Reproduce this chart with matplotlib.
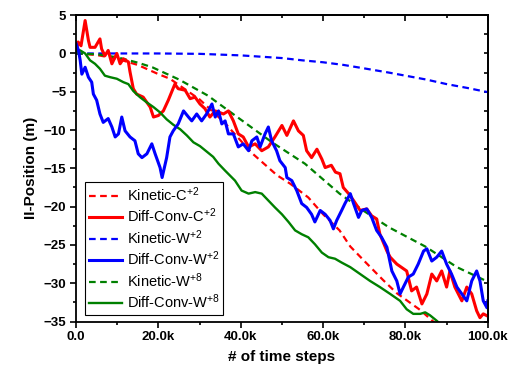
import numpy as np
import matplotlib
matplotlib.use('Agg')
from matplotlib import pyplot as plt
from matplotlib.ticker import FixedLocator, MultipleLocator

plt.rcParams['font.family'] = ['Liberation Sans', 'DejaVu Sans']
plt.rcParams['mathtext.fontset'] = 'custom'
plt.rcParams['mathtext.rm'] = 'Liberation Sans'
plt.rcParams['mathtext.it'] = 'Liberation Sans'
plt.rcParams['mathtext.bf'] = 'Liberation Sans:bold'

# x values in thousands of time steps
kin_c_x = [0, 5, 10, 15, 20, 22.8, 30, 36, 42.7, 48.8, 52, 56.4, 60, 64, 66.6, 70.2, 74.6, 77.9, 83.6, 88]
kin_c_y = [0, -0.2, -0.7, -1.5, -2.7, -3.3, -6.0, -9.0, -13.0, -15.9, -17.0, -18.8, -21.0, -23.1, -25.2,
           -27.2, -29.6, -31.3, -33.5, -35.6]

kin_w2_x = [0, 10, 20, 30, 40, 50, 55, 60, 65, 70, 76, 80, 85, 90, 95, 100]
kin_w2_y = [0, 0, 0, -0.05, -0.25, -0.6, -0.9, -1.15, -1.5, -1.95, -2.5, -2.9, -3.4, -4.0, -4.5, -5.05]

kin_w8_x = [0, 5, 10, 15, 18.5, 25, 32, 39.4, 47.6, 55.6, 64, 70, 76, 84.8, 92.5, 100]
kin_w8_y = [0, -0.1, -0.5, -1.2, -1.8, -3.4, -5.5, -8.4, -11.6, -14.4, -18.3, -20.6, -22.7, -25.2, -27.9, -29.8]

dc_c_x = [0, 0.5, 1.2, 2.2, 3, 3.4, 4.6, 5.8, 6.2, 7, 7.8, 8.7, 9.9, 10.7, 11.5, 12.7, 13.1, 13.9, 14.7,
          16.3, 18, 18.8, 20, 21.2, 22.4, 24, 24.8, 26.5, 27.7, 28.9, 30.1, 31.3, 32.5, 33.8, 35.8, 37, 38.2,
          39.4, 40.6, 41.9, 43.5, 45.1, 46.7, 48.3, 50, 51.2, 52.8, 54, 55.2, 56, 57.2, 58.5, 59.7, 60.5, 62,
          63, 64.1, 64.9, 66.2, 67.4, 69, 70.6, 71.8, 73, 73.8, 75.5, 76.3, 77.9, 80.3, 81.5, 82.7, 84, 85.2,
          86.4, 87.6, 88.8, 90, 90.8, 92, 93.7, 94.9, 96.1, 97.3, 98.1, 98.9, 100]
dc_c_y = [0.3, 1.5, 1.0, 4.3, 1.7, 0.8, 0.8, 1.9, 0.6, -0.3, 0.4, -1.35, 0, -1.35, -0.7, -1.1, -2.4, -4.6, -5.3,
          -5.7, -7, -8.3, -8.1, -7.5, -6.1, -4, -4.6, -4.8, -5.9, -5.7, -6.6, -7.2, -8.3, -7.5, -7.9, -7.5, -8.8,
          -10.5, -10.9, -12.2, -11.8, -12.7, -12.2, -10.9, -9.4, -10.7, -8.8, -10.1, -10.7, -12.7, -13.6, -12.5,
          -13.8, -14.9, -14.6, -15.5, -15.7, -17.5, -18.3, -19.2, -20.5, -20.3, -21.2, -21.6, -23.6, -25.8, -26.6,
          -27.5, -28.4, -31, -30.5, -32.7, -31.4, -28.8, -29.7, -28.4, -30.5, -28.4, -30.5, -32.3, -30.5, -31.4,
          -33.6, -34.5, -34, -34.3]

dc_w2_x = [0, 0.6, 1, 1.4, 2.2, 3, 3.8, 4.2, 5, 5.8, 6.6, 7.8, 8.7, 9.5, 10.3, 11.1, 11.9, 13.1, 14.3, 15.1,
           16, 17.2, 18.4, 19.2, 20.4, 20.9, 22, 22.8, 23.6, 24.8, 26.1, 27.3, 28.1, 29.3, 30.5, 31.7, 33, 33.8,
           34.6, 35.4, 36.2, 37, 38.2, 39.4, 40.6, 41.9, 42.7, 43.9, 44.7, 45.9, 46.7, 47.5, 48.7, 49.5, 50.8,
           51.2, 52.4, 53.6, 54.8, 56, 57.2, 58, 59.3, 60.5, 61.7, 62.5, 63.3, 64.5, 65.3, 66.6, 67.4, 68.6, 69.4,
           70.6, 71.8, 73, 74.2, 75.5, 76.7, 77.9, 78.7, 79.5, 80.7, 81.9, 83.1, 84.4, 85.2, 86.4, 87.6, 88.8,
           90, 91.2, 92.5, 93.7, 94.9, 96.1, 97.3, 98.1, 98.9, 99.8, 100]
dc_w2_y = [1.3, 0.4, -0.9, -2.7, -1.8, -3.1, -3.75, -5.3, -6.1, -7.9, -9.0, -8.5, -9.6, -10.9, -10.5, -8.3,
           -10.1, -10.9, -11.4, -13.1, -13.6, -13.1, -11.8, -13.1, -14.9, -16.2, -13.6, -10.9, -10.1, -9.2, -7.5,
           -8.3, -8.8, -7.9, -8.8, -7.9, -6.6, -8.3, -7.5, -9.2, -8.8, -10.5, -10.5, -12.2, -11.8, -12.7, -11.4,
           -10.9, -12.2, -10.5, -9.6, -11.4, -12.7, -14, -14.9, -16.2, -16.6, -17.9, -19.6, -20.1, -21, -22,
           -20.5, -21, -21.8, -22.9, -21.8, -20.5, -19.6, -18.3, -19.6, -21.4, -20.5, -20.3, -21.4, -23.1, -24,
           -25.3, -28.4, -29.7, -31.4, -30.5, -29.2, -28.8, -27.5, -25.8, -25.5, -27.1, -26.6, -25.8, -27.5,
           -28.8, -30.5, -31.4, -32.3, -29.7, -28.4, -29.7, -32.3, -33.2, -32.3]

dc_w8_x = [0, 1, 2.2, 3.4, 4.6, 5.8, 7, 8.3, 9.9, 11.5, 12.7, 13.9, 15.5, 17.2, 18.8, 20.4, 22, 23.6, 25.3,
           26.9, 28.5, 30.1, 31.7, 33.3, 34.6, 36.2, 38.6, 40.2, 41.9, 43.5, 45.1, 46.7, 48.3, 50, 51.6, 53.2,
           54.8, 56.4, 58, 59.7, 61.3, 62.9, 64.5, 66.6, 69, 71.4, 73.8, 76.3, 78.7, 80.3, 81.9, 83.6, 84.8, 86,
           87.6, 88.4]
dc_w8_y = [0.2, 0.4, 0, -0.9, -1.35, -2, -2.9, -3.1, -3.3, -3.75, -4, -4.9, -5.7, -6.4, -7, -7.7, -8.6, -9.3,
           -9.9, -10.7, -11.6, -12.1, -12.8, -13.5, -14.4, -15.3, -16.6, -17.9, -18.3, -18.1, -18.3, -19.2, -20.1,
           -21, -22, -23.1, -23.6, -24, -24.9, -26, -26.6, -26.8, -27.3, -27.9, -28.8, -29.7, -30.5, -31.4, -32.3,
           -33.4, -34, -34, -33.8, -34.2, -34.9, -35.3]

x_ticks = [0, 20, 40, 60, 80, 100]
x_tick_labels = ['0.0', '20.0k', '40.0k', '60.0k', '80.0k', '100.0k']
y_ticks = [5, 0, -5, -10, -15, -20, -25, -30, -35]

fig = plt.figure(figsize=(5.14, 3.70), dpi=100)
ax = fig.add_axes([0.148, 0.131, 0.801, 0.828])

dash = (0, (3, 2))
ax.plot(kin_c_x, kin_c_y, color='red', ls=dash, lw=1.6, label='Kinetic-C$^{+2}$')
ax.plot(kin_w2_x, kin_w2_y, color='blue', ls=dash, lw=1.6, label='Kinetic-W$^{+2}$')
ax.plot(kin_w8_x, kin_w8_y, color='green', ls=dash, lw=1.6, label='Kinetic-W$^{+8}$')
ax.plot(dc_c_x, dc_c_y, color='red', lw=2.2, label='Diff-Conv-C$^{+2}$')
ax.plot(dc_w8_x, dc_w8_y, color='green', lw=1.7, label='Diff-Conv-W$^{+8}$')
ax.plot(dc_w2_x, dc_w2_y, color='blue', lw=2.2, label='Diff-Conv-W$^{+2}$')

ax.set_xlim(0, 100)
ax.set_ylim(-35, 5)
ax.xaxis.set_major_locator(FixedLocator(x_ticks))
ax.set_xticklabels(x_tick_labels)
ax.xaxis.set_minor_locator(MultipleLocator(10))
ax.yaxis.set_major_locator(FixedLocator(y_ticks))
ax.yaxis.set_minor_locator(MultipleLocator(2.5))
for lab in ax.get_xticklabels() + ax.get_yticklabels():
    lab.set_fontweight('bold')
    lab.set_fontsize(9.5)

ax.tick_params(which='both', direction='out', top=False, right=False, width=1.2, pad=3)
ax.tick_params(which='major', length=4)
ax.tick_params(which='minor', length=2.5)
# mirrored inward ticks on top / right
sec_x = ax.secondary_xaxis('top')
sec_x.xaxis.set_major_locator(FixedLocator(x_ticks))
sec_x.xaxis.set_minor_locator(MultipleLocator(10))
sec_x.tick_params(which='both', direction='in', labeltop=False, width=1.2)
sec_x.tick_params(which='major', length=4)
sec_x.tick_params(which='minor', length=2.5)
sec_y = ax.secondary_yaxis('right')
sec_y.yaxis.set_major_locator(MultipleLocator(2.5))
sec_y.tick_params(which='both', direction='in', labelright=False, width=1.2, length=3)
for s in ax.spines.values():
    s.set_linewidth(1.3)
for s in list(sec_x.spines.values()) + list(sec_y.spines.values()):
    s.set_linewidth(1.3)

ax.set_xlabel('# of time steps', fontsize=11, fontweight='bold', labelpad=5)
ax.set_ylabel('II-Position (m)', fontsize=11, fontweight='bold', labelpad=4)

h, l = ax.get_legend_handles_labels()
order = [0, 3, 1, 5, 2, 4]
leg = ax.legend([h[i] for i in order], [l[i] for i in order], loc='lower left',
                bbox_to_anchor=(0.022, 0.021), borderaxespad=0, fontsize=10.5,
                handlelength=2.3, handletextpad=0.3, labelspacing=0.2, borderpad=0.25,
                fancybox=False, framealpha=1, edgecolor='black')
leg.get_frame().set_linewidth(0.8)

fig.savefig('out.png', dpi=100)
